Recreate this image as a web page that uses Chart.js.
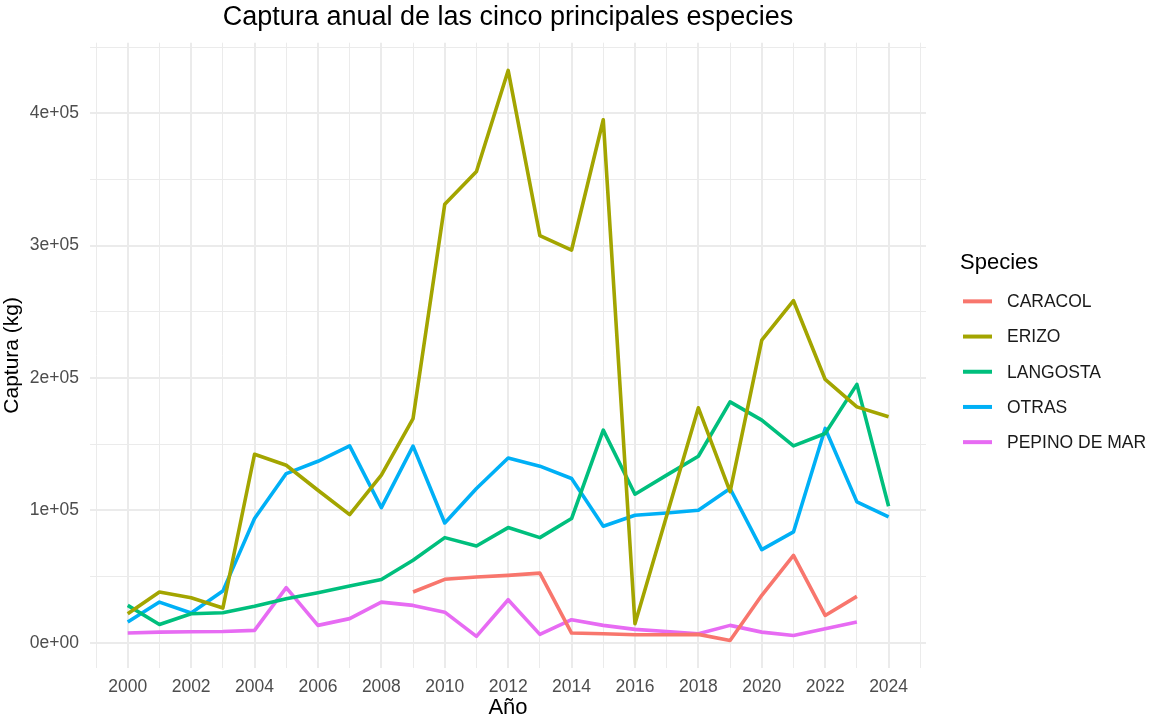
<!DOCTYPE html>
<html>
<head>
<meta charset="utf-8">
<script src="https://cdn.jsdelivr.net/npm/chart.js@4.4.0/dist/chart.umd.min.js"></script>
<style>
  body { margin: 0; background: #fff; }
  #wrap { width: 1150px; height: 721px; position: relative; }
</style>
</head>
<body>
<div id="wrap"><canvas id="capturaChart"></canvas></div>
<script>
// años y capturas (kg)
const years = [2000, 2001, 2002, 2003, 2004, 2005, 2006, 2007, 2008, 2009, 2010, 2011, 2012,
               2013, 2014, 2015, 2016, 2017, 2018, 2019, 2020, 2021, 2022, 2023, 2024];

const caracol = [null, null, null, null, null, null, null, null, null, 38300, 47900, 49600, 50900,
                 52600, 7300, 6800, 6000, 6000, 6300, 1700, 35800, 66000, 20600, 35000, null];
const erizo = [21900, 38300, 34000, 26200, 142400, 134100, 115200, 96800, 126600, 169400, 331300, 356000, 432400,
               307600, 296700, 395100, 14400, 96000, 177500, 114100, 228700, 258400, 198900, 178200, 170700];
const langosta = [28200, 13800, 21900, 22700, 27500, 33300, 37800, 42800, 47700, 62300, 79400, 73100, 87000,
                  79400, 93800, 160600, 112200, 126600, 140900, 182000, 168200, 148700, 158100, 195200, 103100];
const otras = [15600, 30700, 22400, 39000, 93800, 127800, 137100, 148700, 102100, 148500, 90500, 116500, 139600,
               133400, 124100, 88000, 96300, 98000, 100100, 116500, 70300, 83700, 161900, 106400, 95000];
const pepino = [7300, 8000, 8300, 8500, 9300, 41600, 13100, 18200, 30700, 28200, 23100, 4800, 32500,
                6300, 17400, 13100, 10100, 8500, 6800, 13100, 8000, 5500, 10600, 15600, null];

const speciesNames = ['CARACOL', 'ERIZO', 'LANGOSTA', 'OTRAS', 'PEPINO DE MAR'];
const speciesColors = ['#F8766D', '#A3A500', '#00BF7D', '#00B0F6', '#E76BF3'];
const speciesData = [caracol, erizo, langosta, otras, pepino];

// marcas del eje y (mayores cada 1e5, menores entre ellas)
const yTicks = [0, 50000, 100000, 150000, 200000, 250000, 300000, 350000, 400000, 450000];

const FONT = '"Liberation Sans", Arial, sans-serif';

function toPoints(vals) {
    return years.map((yr, i) => ({ x: yr, y: vals[i] }));
}

function sciLabel(v) {
    if (v === 0) return '0e+00';
    if (v % 100000 !== 0) return '';
    return (v / 100000) + 'e+05';
}

// leyenda al estilo ggplot, dibujada a la derecha del panel
const speciesLegend = {
    id: 'speciesLegend',
    afterDraw(chart) {
        const { ctx, chartArea } = chart;
        const x0 = chartArea.right + 34;
        const mid = (chartArea.top + chartArea.bottom) / 2;
        ctx.save();
        ctx.textBaseline = 'middle';
        ctx.textAlign = 'left';
        ctx.fillStyle = '#000';
        ctx.font = '22px ' + FONT;
        ctx.fillText('Species', x0, mid - 92);
        chart.data.datasets.forEach((ds, i) => {
            const y = mid - 54 + i * 35.2;
            ctx.strokeStyle = ds.borderColor;
            ctx.lineWidth = 4;
            ctx.beginPath();
            ctx.moveTo(x0 + 3, y);
            ctx.lineTo(x0 + 32, y);
            ctx.stroke();
            ctx.fillStyle = '#1a1a1a';
            ctx.font = '17.5px ' + FONT;
            ctx.fillText(ds.label, x0 + 47, y + 1);
        });
        ctx.restore();
    }
};

const ctx = document.getElementById('capturaChart').getContext('2d');

new Chart(ctx, {
    type: 'line',
    data: {
        datasets: speciesNames.map((name, i) => ({
            label: name,
            data: toPoints(speciesData[i]),
            borderColor: speciesColors[i],
            backgroundColor: speciesColors[i],
            borderWidth: 3.6,
            borderJoinStyle: 'round',
            pointRadius: 0,
            tension: 0,
            spanGaps: false
        }))
    },
    options: {
        responsive: true,
        maintainAspectRatio: false,
        animation: false,
        layout: { padding: { left: 0, right: 224, top: 0, bottom: 0 } },
        plugins: {
            legend: { display: false },
            tooltip: { enabled: false },
            title: {
                display: true,
                text: 'Captura anual de las cinco principales especies',
                color: '#000',
                fullSize: false,
                font: { family: FONT, size: 27, weight: 'normal' },
                padding: { top: 1, bottom: 9.3 }
            }
        },
        scales: {
            x: {
                type: 'linear',
                min: 1998.81,
                max: 2025.18,
                afterFit(scale) { scale.height = 53; },
                border: { display: false },
                grid: {
                    color: '#EBEBEB',
                    drawTicks: false,
                    lineWidth: c => (c.tick && c.tick.value % 2 === 0) ? 2 : 1
                },
                ticks: {
                    stepSize: 1,
                    includeBounds: false,
                    autoSkip: false,
                    maxTicksLimit: 100,
                    maxRotation: 0,
                    padding: 9,
                    color: '#4D4D4D',
                    font: { family: FONT, size: 17.5 },
                    callback: v => (v % 2 === 0 ? String(v) : '')
                },
                title: {
                    display: true,
                    text: 'Año',
                    color: '#000',
                    font: { family: FONT, size: 22 },
                    padding: { top: 0, bottom: 0 }
                }
            },
            y: {
                min: -19100,
                max: 453340,
                afterBuildTicks(scale) {
                    scale.ticks = yTicks.map(v => ({ value: v }));
                },
                afterFit(scale) { scale.width = 90; },
                border: { display: false },
                grid: {
                    color: '#EBEBEB',
                    drawTicks: false,
                    lineWidth: c => (c.tick && c.tick.value % 100000 === 0) ? 2 : 1
                },
                ticks: {
                    autoSkip: false,
                    padding: 11,
                    color: '#4D4D4D',
                    font: { family: FONT, size: 17.5 },
                    callback: v => sciLabel(v)
                },
                title: {
                    display: true,
                    text: 'Captura (kg)',
                    color: '#000',
                    font: { family: FONT, size: 21 },
                    padding: { top: 0, bottom: 0 }
                }
            }
        }
    },
    plugins: [speciesLegend]
});
</script>
</body>
</html>
